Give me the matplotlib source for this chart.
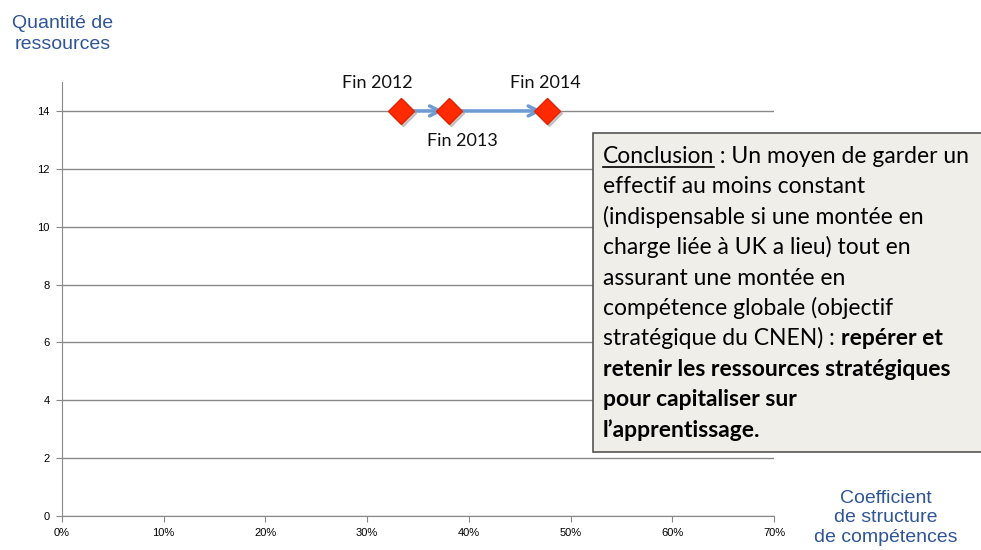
import numpy as np
import matplotlib.pyplot as plt
from matplotlib.patches import Rectangle
from matplotlib.transforms import ScaledTranslation

# data
labels = ['Fin 2012', 'Fin 2013', 'Fin 2014']
coef = [0.333, 0.380, 0.477]
ressources = [14, 14, 14]
label_offsets = [(-17, 20), (10, -22), (-1, 20)]

x_ticks = np.arange(0, 0.71, 0.1)
y_ticks = np.arange(0, 15, 2)

box_lines = [
    [('Conclusion', 'normal', True), (' : Un moyen de garder un', 'normal', False)],
    [('effectif au moins constant', 'normal', False)],
    [('(indispensable si une montée en', 'normal', False)],
    [('charge liée à UK a lieu) tout en', 'normal', False)],
    [('assurant une montée en', 'normal', False)],
    [('compétence globale (objectif', 'normal', False)],
    [('stratégique du CNEN) : ', 'normal', False), ('repérer et', 'bold', False)],
    [('retenir les ressources stratégiques', 'bold', False)],
    [('pour capitaliser sur', 'bold', False)],
    [('l\u2019apprentissage.', 'bold', False)],
]

blue_txt = '#2F5597'
font_box = 'Lato'

fig = plt.figure(figsize=(9.81, 5.5), dpi=100)
ax = fig.add_axes([62 / 981, 1 - 516 / 550, 712 / 981, 434 / 550])

ax.set_xlim(0, 0.7)
ax.set_ylim(0, 15)
ax.set_xticks(x_ticks)
ax.set_xticklabels(['%d%%' % round(v * 100) for v in x_ticks], fontsize=8, family='Liberation Sans')
ax.set_yticks(y_ticks)
ax.set_yticklabels([str(v) for v in y_ticks], fontsize=8, family='Liberation Sans')
ax.tick_params(axis='both', color='#888888', length=4, pad=5)
for side in ['top', 'right']:
    ax.spines[side].set_visible(False)
for side in ['left', 'bottom']:
    ax.spines[side].set_color('#888888')
ax.yaxis.grid(True, color='#888888', linewidth=1)
ax.set_axisbelow(True)

# arrows between successive points
for i in range(len(coef) - 1):
    ax.annotate('', xy=(coef[i + 1] - 0.005, ressources[i + 1]), xytext=(coef[i] + 0.005, ressources[i]),
                arrowprops=dict(arrowstyle='->', color='#6D9BD3', lw=2.5, mutation_scale=18,
                                shrinkA=0, shrinkB=0), zorder=3)

# shadow then markers
shadow = ax.transData + ScaledTranslation(1.5 / 72, -1.5 / 72, fig.dpi_scale_trans)
ax.plot(coef, ressources, linestyle='none', marker='D', markersize=13.5, color='#999999', alpha=0.5,
        transform=shadow, zorder=3)
ax.plot(coef, ressources, linestyle='none', marker='D', markersize=13.5, color='#FF2A00',
        markeredgecolor='#E82000', zorder=4)

for lab, x, y, off in zip(labels, coef, ressources, label_offsets):
    ax.annotate(lab, xy=(x, y), xytext=off, textcoords='offset points', ha='center', va='center',
                fontsize=13, family=font_box, color='#111111')

# axis titles
fig.text(63 / 981, 1 - 34 / 550, 'Quantité de\nressources', ha='center', va='center',
         fontsize=14, color=blue_txt, family='Liberation Sans', linespacing=1.3)
fig.text(886 / 981, 1 - 518 / 550, 'Coefficient\nde structure\nde compétences', ha='center', va='center',
         fontsize=14, color=blue_txt, family='Liberation Sans', linespacing=1.2)

# conclusion box
box = Rectangle((593 / 981, 1 - 452 / 550), 420 / 981, 319 / 550, transform=fig.transFigure,
                facecolor='#EFEEE8', edgecolor='#555555', linewidth=1.2, zorder=5)
fig.add_artist(box)

fig.canvas.draw()
renderer = fig.canvas.get_renderer()
x0 = 603
y_first = 163
line_h = 30.4
for i, parts in enumerate(box_lines):
    x = x0
    y = 550 - (y_first + i * line_h)
    for txt, weight, under in parts:
        t = fig.text(x / 981, y / 550, txt, fontsize=16.5, fontweight=weight, family=font_box,
                     ha='left', va='baseline', color='black', zorder=6)
        bb = t.get_window_extent(renderer)
        if under:
            fig.add_artist(plt.Line2D([bb.x0 / 981, bb.x1 / 981], [(y - 4) / 550, (y - 4) / 550],
                                      transform=fig.transFigure, color='black', lw=1.2, zorder=6))
        x = bb.x1

fig.savefig('out.png', dpi=100)
